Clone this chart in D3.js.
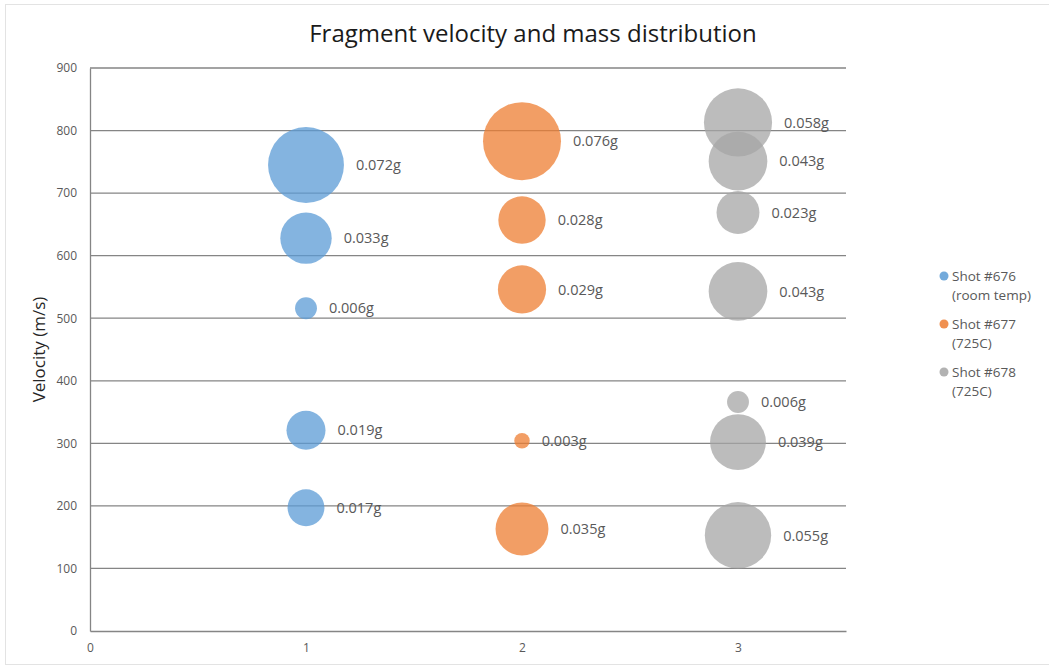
<!DOCTYPE html>
<html>
<head>
<meta charset="utf-8">
<script src="https://cdn.jsdelivr.net/npm/d3@7"></script>
<style>
  html, body { margin: 0; padding: 0; background: #fff; }
  svg { display: block; font-family: "Open Sans", "Liberation Sans", sans-serif; }
</style>
</head>
<body>
<svg id="chart" width="1049" height="666"></svg>
<script>
// Shot series
const seriesNames = ["Shot #676 (room temp)", "Shot #677 (725C)", "Shot #678 (725C)"];
const legendLines = [["Shot #676", "(room temp)"], ["Shot #677", "(725C)"], ["Shot #678", "(725C)"]];
const seriesColors = ["#5B9BD5", "#ED7D31", "#A5A5A5"];

// Fragments per shot: x position, velocity (m/s), mass (g)
const shot676X = [1, 1, 1, 1, 1];
const shot676Velocity = [745, 628, 516, 321, 197];
const shot676Mass = [0.072, 0.033, 0.006, 0.019, 0.017];

const shot677X = [2, 2, 2, 2, 2];
const shot677Velocity = [783, 657, 546, 304, 163];
const shot677Mass = [0.076, 0.028, 0.029, 0.003, 0.035];

const shot678X = [3, 3, 3, 3, 3, 3, 3];
const shot678Velocity = [813, 751, 669, 543, 366, 302, 153];
const shot678Mass = [0.058, 0.043, 0.023, 0.043, 0.006, 0.039, 0.055];

const xTicks = [0, 1, 2, 3];
const yTicks = [0, 100, 200, 300, 400, 500, 600, 700, 800, 900];

const series = [
  { x: shot676X, v: shot676Velocity, m: shot676Mass },
  { x: shot677X, v: shot677Velocity, m: shot677Mass },
  { x: shot678X, v: shot678Velocity, m: shot678Mass }
].map((s, i) => ({
  name: seriesNames[i],
  color: seriesColors[i],
  points: s.x.map((x, j) => ({ x, v: s.v[j], m: s.m[j] }))
}));

const svg = d3.select("#chart");
const plot = { left: 90, right: 846, top: 68, bottom: 631 };

const x = d3.scaleLinear().domain([0, 3.5]).range([plot.left, plot.right]);
const y = d3.scaleLinear().domain([0, 900]).range([plot.bottom, plot.top]);
const r = d3.scaleSqrt().domain([0, 0.076]).range([0, 39]);

// chart frame
svg.append("rect")
  .attr("x", 5.5).attr("y", 4.5).attr("width", 1060).attr("height", 660)
  .attr("fill", "none").attr("stroke", "#e3e3e3").attr("stroke-width", 1);

// title
svg.append("text")
  .attr("x", 533).attr("y", 42)
  .attr("text-anchor", "middle")
  .attr("font-size", 24).attr("fill", "#1a1a1a")
  .text("Fragment velocity and mass distribution");

// horizontal gridlines
svg.append("g")
  .selectAll("line")
  .data(yTicks.filter(t => t > 0))
  .join("line")
  .attr("x1", plot.left).attr("x2", plot.right)
  .attr("y1", d => y(d)).attr("y2", d => y(d))
  .attr("stroke", "#858585").attr("stroke-width", 1.3);

// y axis
const yAxis = svg.append("g")
  .attr("transform", `translate(${plot.left},0)`)
  .call(d3.axisLeft(y).tickValues(yTicks).tickSize(0).tickPadding(13).tickFormat(d3.format("d")));
yAxis.select(".domain").attr("stroke", "#858585").attr("stroke-width", 1.3);
yAxis.selectAll("text").attr("font-size", 12).attr("fill", "#595959")
  .attr("font-family", "'Open Sans', sans-serif");

// x axis
const xAxis = svg.append("g")
  .attr("transform", `translate(0,${plot.bottom})`)
  .call(d3.axisBottom(x).tickValues(xTicks).tickSize(0).tickPadding(12).tickFormat(d3.format("d")));
xAxis.select(".domain").attr("stroke", "#858585").attr("stroke-width", 1.3);
xAxis.selectAll("text").attr("font-size", 12).attr("fill", "#595959")
  .attr("font-family", "'Open Sans', sans-serif");

// y axis title
svg.append("text")
  .attr("transform", `translate(45,${(plot.top + plot.bottom) / 2}) rotate(-90)`)
  .attr("text-anchor", "middle")
  .attr("font-size", 17).attr("fill", "#262626")
  .text("Velocity (m/s)");

// bubbles
const bubbles = svg.append("g");
series.forEach(s => {
  bubbles.append("g")
    .selectAll("circle")
    .data(s.points)
    .join("circle")
    .attr("cx", d => x(d.x))
    .attr("cy", d => y(d.v))
    .attr("r", d => r(d.m))
    .attr("fill", s.color)
    .attr("fill-opacity", 0.75);
});

// mass labels
const labels = svg.append("g");
series.forEach(s => {
  labels.append("g")
    .selectAll("text")
    .data(s.points)
    .join("text")
    .attr("x", d => x(d.x) + r(d.m) + 12)
    .attr("y", d => y(d.v))
    .attr("dy", "0.36em")
    .attr("font-size", 14.5).attr("fill", "#595959")
    .text(d => d3.format(".3f")(d.m) + "g");
});

// legend
const legend = svg.append("g").attr("transform", "translate(944,0)");
const legendTop = 276;
series.forEach((s, i) => {
  const g = legend.append("g").attr("transform", `translate(0,${legendTop + i * 48})`);
  g.append("circle").attr("cx", 0).attr("cy", 0).attr("r", 4.5).attr("fill", s.color).attr("fill-opacity", 0.85);
  legendLines[i].forEach((line, k) => {
    g.append("text")
      .attr("x", 8).attr("y", k * 19)
      .attr("dy", "0.36em")
      .attr("font-size", 13.5).attr("fill", "#595959")
      .text(line);
  });
});
</script>
</body>
</html>
